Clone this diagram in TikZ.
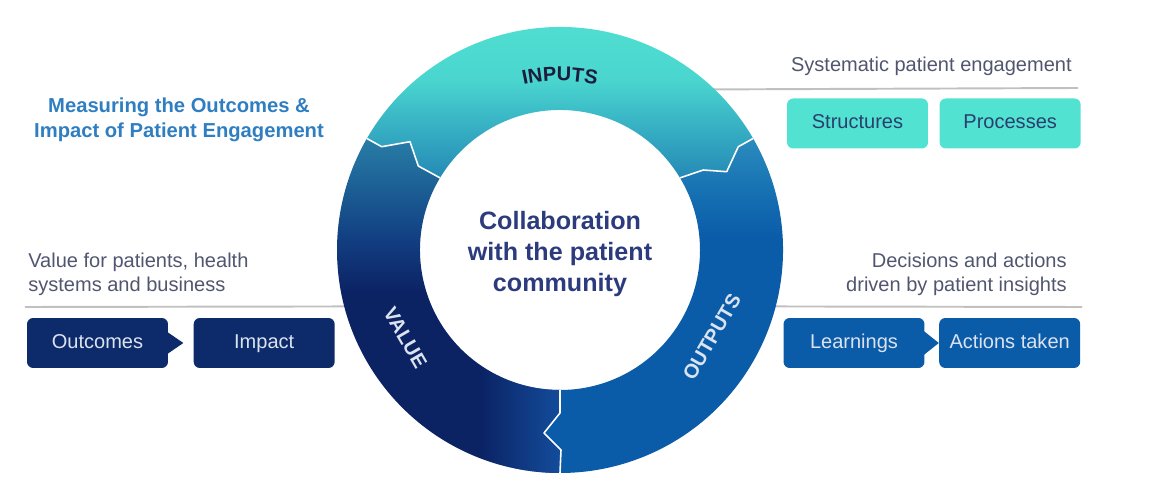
\documentclass[tikz,border=0pt]{standalone}
\usepackage{fontspec}
\setmainfont{Liberation Sans}
\usetikzlibrary{calc,positioning,decorations.text,fadings}

\definecolor{inputteal}{HTML}{52E2D2}
\definecolor{inputmid}{HTML}{4AD6CF}
\definecolor{inputlow}{HTML}{38B3C5}
\definecolor{inputdeep}{HTML}{2589B5}
\definecolor{valuetop}{HTML}{2A7FA8}
\definecolor{valueupper}{HTML}{1C6296}
\definecolor{valuemid}{HTML}{123F82}
\definecolor{valuenavy}{HTML}{0B2263}
\definecolor{valueright}{HTML}{1450A0}
\definecolor{outputtop}{HTML}{2B8CBD}
\definecolor{outputupper}{HTML}{1670B2}
\definecolor{outputblue}{HTML}{0A5BA8}
\definecolor{boxnavy}{HTML}{0D2A6B}
\definecolor{boxlight}{HTML}{DCE3F0}
\definecolor{boxink}{HTML}{2B3E6E}
\definecolor{noteink}{HTML}{50566F}
\definecolor{titleblue}{HTML}{2F7EC1}
\definecolor{hubink}{HTML}{2B3B7C}
\definecolor{ringink}{HTML}{1C1C3C}
\definecolor{rulegray}{HTML}{C0C0C0}

\pgfdeclareverticalshading{inputshade}{100bp}{color(0bp)=(inputdeep); color(25bp)=(inputdeep);
  color(40bp)=(inputlow); color(52bp)=(inputmid); color(75bp)=(inputteal); color(100bp)=(inputteal)}
\pgfdeclareverticalshading{valueshade}{100bp}{color(0bp)=(valuenavy); color(25bp)=(valuenavy);
  color(52bp)=(valuenavy); color(60bp)=(valuemid); color(68bp)=(valueupper); color(75bp)=(valuetop); color(100bp)=(valuetop)}
\pgfdeclareverticalshading{outputshade}{100bp}{color(0bp)=(outputblue); color(25bp)=(outputblue);
  color(60bp)=(outputblue); color(67bp)=(outputupper); color(75bp)=(outputtop); color(100bp)=(outputtop)}
\tikzfading[name=fadeinright, left color=transparent!100, right color=transparent!0]

\newcommand{\boxtxt}{\fontsize{11.4pt}{13.7pt}\selectfont}
\newcommand{\notetxt}{\fontsize{11.4pt}{13.6pt}\selectfont}
\newcommand{\titletxt}{\fontsize{11.5pt}{14.2pt}\selectfont\bfseries}
\newcommand{\hubtxt}{\fontsize{14.3pt}{17.9pt}\selectfont\bfseries}
\newcommand{\ringtxt}{\fontsize{11.4pt}{13.7pt}\selectfont\bfseries}

\tikzset{
  stagebox/.style={rounded corners=3.5pt, minimum width=2.82cm, minimum height=1cm, inner sep=0pt,
    text height=8.2pt, text depth=2.4pt, font=\boxtxt},
  valuebox/.style={stagebox, fill=boxnavy, text=boxlight},
  inputbox/.style={stagebox, fill=inputteal, text=boxink},
  outputbox/.style={stagebox, fill=outputblue, text=boxlight},
  note/.style={inner sep=0pt, font=\notetxt, text=noteink},
  seam/.style={draw=white, line width=0.9pt, line join=round},
  rule/.style={draw=rulegray, line width=1.1pt}
}

\begin{document}
\begin{tikzpicture}[x=0.02cm,y=0.02cm]
\useasboundingbox (0,0) rectangle (1160,500);

\coordinate (hub) at (560,250);
\begin{scope}[shift={(hub)}]
  %% seams between the three stages
  \coordinate (ul0) at (150:223); \coordinate (ul1) at (-178.3,103.3);
  \coordinate (ul2) at (-150,108.3); \coordinate (ul3) at (-141.7,84);
  \coordinate (ul4) at (149:140);
  \coordinate (ur0) at (30:223); \coordinate (ur1) at (178.3,103.3);
  \coordinate (ur2) at (166.7,78.3); \coordinate (ur3) at (143.3,80);
  \coordinate (ur4) at (31:140);
  \coordinate (bt0) at (270:140); \coordinate (bt1) at (0,-163);
  \coordinate (bt2) at (-16,-183); \coordinate (bt3) at (1,-200);
  \coordinate (bt4) at (270:223);
  %% rule ends on the ring
  \coordinate (lring) at (194.8:221);
  \coordinate (trring) at (46.6:221);
  \coordinate (brring) at (-14.8:221);
\end{scope}

%% rules
\coordinate (lend) at (25,193);
\coordinate (trend) at (1078,412);
\coordinate (brend) at (1082,193);
\draw[rule] (lend) -- (lring);
\draw[rule] (trring) -- (trend);
\draw[rule] (brring) -- (brend);

%% INPUTS
\shade[shading=inputshade]
  (ul0) arc[start angle=150, end angle=30, radius=223] -- (ur1) -- (ur2) -- (ur3) -- (ur4)
  arc[start angle=31, end angle=149, radius=140] -- (ul3) -- (ul2) -- (ul1) -- cycle;
%% OUTPUTS
\shade[shading=outputshade]
  (ur0) arc[start angle=30, end angle=-90, radius=223] -- (bt3) -- (bt2) -- (bt1) -- (bt0)
  arc[start angle=-90, end angle=31, radius=140] -- (ur3) -- (ur2) -- (ur1) -- cycle;
%% VALUE
\begin{scope}
  \path[clip]
    (bt4) arc[start angle=-90, end angle=-210, radius=223] -- (ul1) -- (ul2) -- (ul3) -- (ul4)
    arc[start angle=149, end angle=270, radius=140] -- (bt1) -- (bt2) -- (bt3) -- cycle;
  \shade[shading=valueshade] (330,20) rectangle (570,365);
  \fill[valueright, path fading=fadeinright] (478,20) rectangle (566,170);
\end{scope}

\draw[seam] (ul0) -- (ul1) -- (ul2) -- (ul3) -- (ul4);
\draw[seam] (ur0) -- (ur1) -- (ur2) -- (ur3) -- (ur4);
\draw[seam] (bt0) -- (bt1) -- (bt2) -- (bt3) -- (bt4);

%% ring labels
\begin{scope}[shift={(hub)}]
  \path[decorate, decoration={text along path, text align=center,
    text={|\ringtxt\color{ringink}|INPUTS}}]
    (118:169) arc[start angle=118, end angle=62, radius=169];
  \node[rotate=-60, font=\ringtxt, text=boxlight] (valuelbl) at (209.6:178) {VALUE};
  \node[rotate=60, font=\ringtxt, text=boxlight] (outputlbl) at (330.2:175) {OUTPUTS};
\end{scope}

\node[font=\hubtxt, text=hubink, align=center] (centre) at (560,246) {Collaboration\\with the patient\\community};

%% left side
\node[font=\titletxt, text=titleblue, align=center] (title) at (179,380) {Measuring the Outcomes \&\\Impact of Patient Engagement};
\node[note, anchor=west, align=left] (valuenote) at (28,226) {Value for patients, health\\systems and business};
\node[valuebox] (outcomes) at (97.5,157) {Outcomes};
\node[valuebox, right=0.5cm of outcomes] (impact) {Impact};
\fill[boxnavy] ([xshift=-1pt,yshift=0.23cm]outcomes.east) -- ([xshift=-0.2cm]impact.west) -- ([xshift=-1pt,yshift=-0.23cm]outcomes.east) -- cycle;

%% right side
\node[note, anchor=east, align=right] (inputnote) at (1072,434) {Systematic patient engagement};
\node[inputbox] (structures) at (857.5,376.5) {Structures};
\node[inputbox, right=0.22cm of structures] (processes) {Processes};

\node[note, anchor=east, align=right] (outputnote) at (1067,226) {Decisions and actions\\driven by patient insights};
\node[outputbox] (learnings) at (854,157) {Learnings};
\node[outputbox, right=0.28cm of learnings] (actions) {Actions taken};
\fill[outputblue] ([xshift=-1pt,yshift=0.25cm]learnings.east) -- (actions.west) -- ([xshift=-1pt,yshift=-0.25cm]learnings.east) -- cycle;

\end{tikzpicture}
\end{document}
